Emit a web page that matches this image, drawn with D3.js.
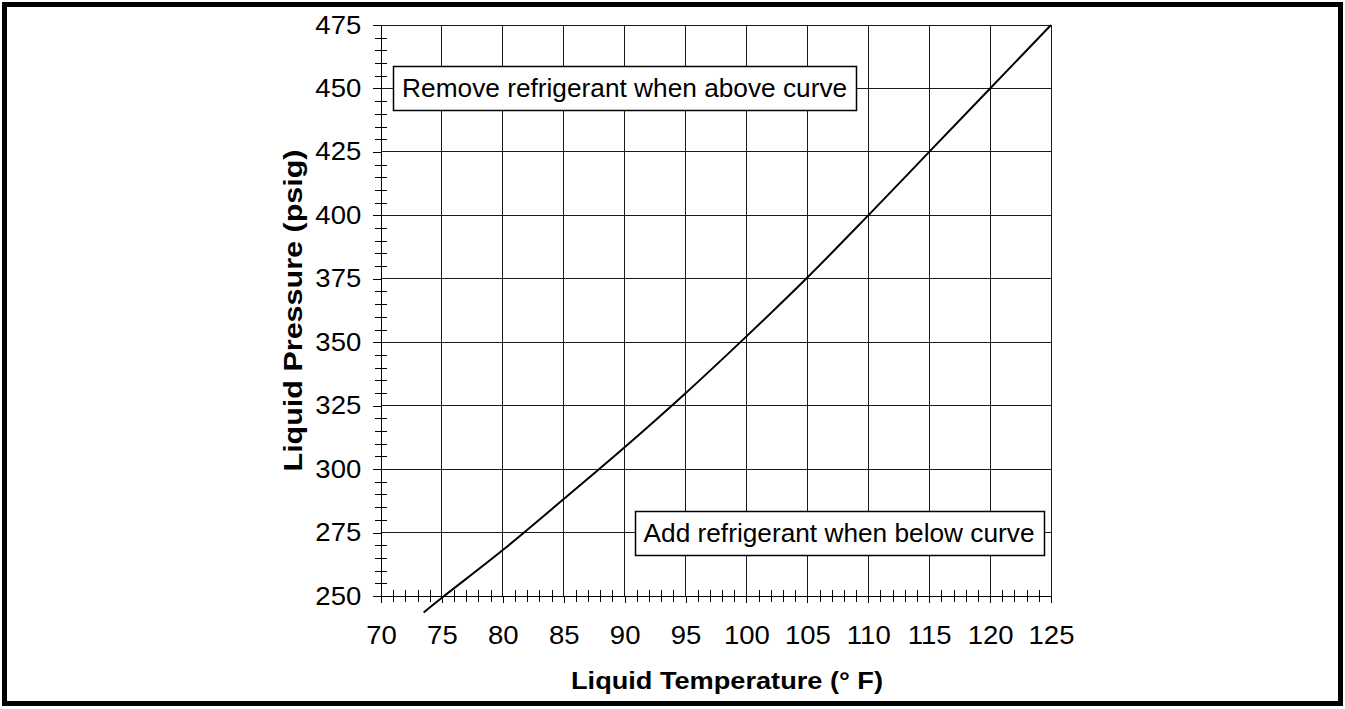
<!DOCTYPE html>
<html>
<head>
<meta charset="utf-8">
<script src="https://cdn.jsdelivr.net/npm/d3@7"></script>
<style>
  body { margin: 0; background: #fff; }
  svg { display: block; font-family: "Liberation Sans", Arial, Helvetica, sans-serif; }
</style>
</head>
<body>
<script>
// curve: liquid temperature (F) vs liquid pressure (psig)
var TEMPS = [73.5, 75, 80, 85, 90, 95, 100, 105, 110, 115, 120, 125];
var PRESSURES = [243.5, 249.3, 268.1, 288.2, 308.6, 329.9, 352.3, 375.5, 400.0, 425.0, 450.0, 475.0];

var X_TICKS = [70, 75, 80, 85, 90, 95, 100, 105, 110, 115, 120, 125];
var Y_TICKS = [250, 275, 300, 325, 350, 375, 400, 425, 450, 475];

var NOTE_TEXT = ["Remove refrigerant when above curve", "Add refrigerant when below curve"];
var NOTE_T = [90, 107.6];
var NOTE_P = [450, 275];
var NOTE_LEN = [445, 391];

var W = 1345, H = 709;
var svg = d3.select("body").append("svg").attr("width", W).attr("height", H);

// outer frame
svg.append("rect").attr("x", 4.5).attr("y", 4.5).attr("width", 1336).attr("height", 699)
  .attr("fill", "none").attr("stroke", "#000").attr("stroke-width", 5);

var x = d3.scaleLinear().domain([70, 125]).range([381, 1051]);
var y = d3.scaleLinear().domain([250, 475]).range([596, 25]);

var xMinor = d3.range(70, 126, 1).filter(function (d) { return d % 5 !== 0; });
var yMinor = d3.range(250, 476, 5).filter(function (d) { return d % 25 !== 0; });

// grid
var grid = svg.append("g").attr("stroke", "#1a1a1a").attr("stroke-width", 1).attr("shape-rendering", "crispEdges");
grid.selectAll(".vg").data(X_TICKS.slice(1)).enter().append("line")
  .attr("x1", function (d) { return x(d); }).attr("x2", function (d) { return x(d); })
  .attr("y1", y(475)).attr("y2", y(250));
grid.selectAll(".hg").data(Y_TICKS.slice(1)).enter().append("line")
  .attr("y1", function (d) { return y(d); }).attr("y2", function (d) { return y(d); })
  .attr("x1", x(70)).attr("x2", x(125));

// axes
var xAxis = svg.append("g").attr("transform", "translate(0," + y(250) + ")")
  .call(d3.axisBottom(x).tickValues(X_TICKS).tickSize(7).tickPadding(23).tickSizeOuter(0));
var xMinorAxis = svg.append("g").attr("transform", "translate(0," + y(250) + ")")
  .call(d3.axisBottom(x).tickValues(xMinor).tickSize(6).tickFormat(""));
xMinorAxis.select(".domain").remove();
xMinorAxis.selectAll("line").attr("y1", -6);

var yAxis = svg.append("g").attr("transform", "translate(" + x(70) + ",0)")
  .call(d3.axisLeft(y).tickValues(Y_TICKS).tickSize(8).tickPadding(10).tickSizeOuter(0));
var yMinorAxis = svg.append("g").attr("transform", "translate(" + x(70) + ",0)")
  .call(d3.axisLeft(y).tickValues(yMinor).tickSize(6).tickFormat(""));
yMinorAxis.select(".domain").remove();
yMinorAxis.selectAll("line").attr("x1", 6);

svg.selectAll(".domain").attr("stroke", "#000");
svg.selectAll(".tick line").attr("stroke", "#000").attr("shape-rendering", "crispEdges");
svg.selectAll(".tick text").attr("font-size", 25).attr("fill", "#000")
  .attr("font-family", "'Liberation Sans', Arial, Helvetica, sans-serif")
  .attr("transform", "scale(1.1,1)");

// curve
var line = d3.line().x(function (d) { return x(d[0]); }).y(function (d) { return y(d[1]); })
  .curve(d3.curveCatmullRom);
svg.append("path").datum(d3.zip(TEMPS, PRESSURES)).attr("d", line)
  .attr("fill", "none").attr("stroke", "#000").attr("stroke-width", 2);

// notes
NOTE_TEXT.forEach(function (t, i) {
  var cx = x(NOTE_T[i]), cy = y(NOTE_P[i]);
  var bw = NOTE_LEN[i] + 18, bh = 44;
  svg.append("rect").attr("x", Math.round(cx - bw / 2) + 0.5).attr("y", Math.round(cy - bh / 2) + 0.5)
    .attr("width", bw).attr("height", bh).attr("fill", "#fff").attr("stroke", "#000").attr("stroke-width", 1.5);
  svg.append("text").attr("x", cx).attr("y", cy + 9).attr("text-anchor", "middle")
    .attr("font-size", 25).attr("textLength", NOTE_LEN[i]).attr("lengthAdjust", "spacingAndGlyphs")
    .text(t);
});

// axis titles
svg.append("text").attr("x", 727).attr("y", 689).attr("text-anchor", "middle")
  .attr("font-size", 24).attr("font-weight", "bold").attr("textLength", 312).attr("lengthAdjust", "spacingAndGlyphs")
  .text("Liquid Temperature (° F)");
svg.append("text").attr("transform", "translate(302," + (y(250) + y(475)) / 2 + ") rotate(-90)")
  .attr("text-anchor", "middle").attr("font-size", 25).attr("font-weight", "bold")
  .attr("textLength", 322).attr("lengthAdjust", "spacingAndGlyphs")
  .text("Liquid Pressure (psig)");
</script>
</body>
</html>
